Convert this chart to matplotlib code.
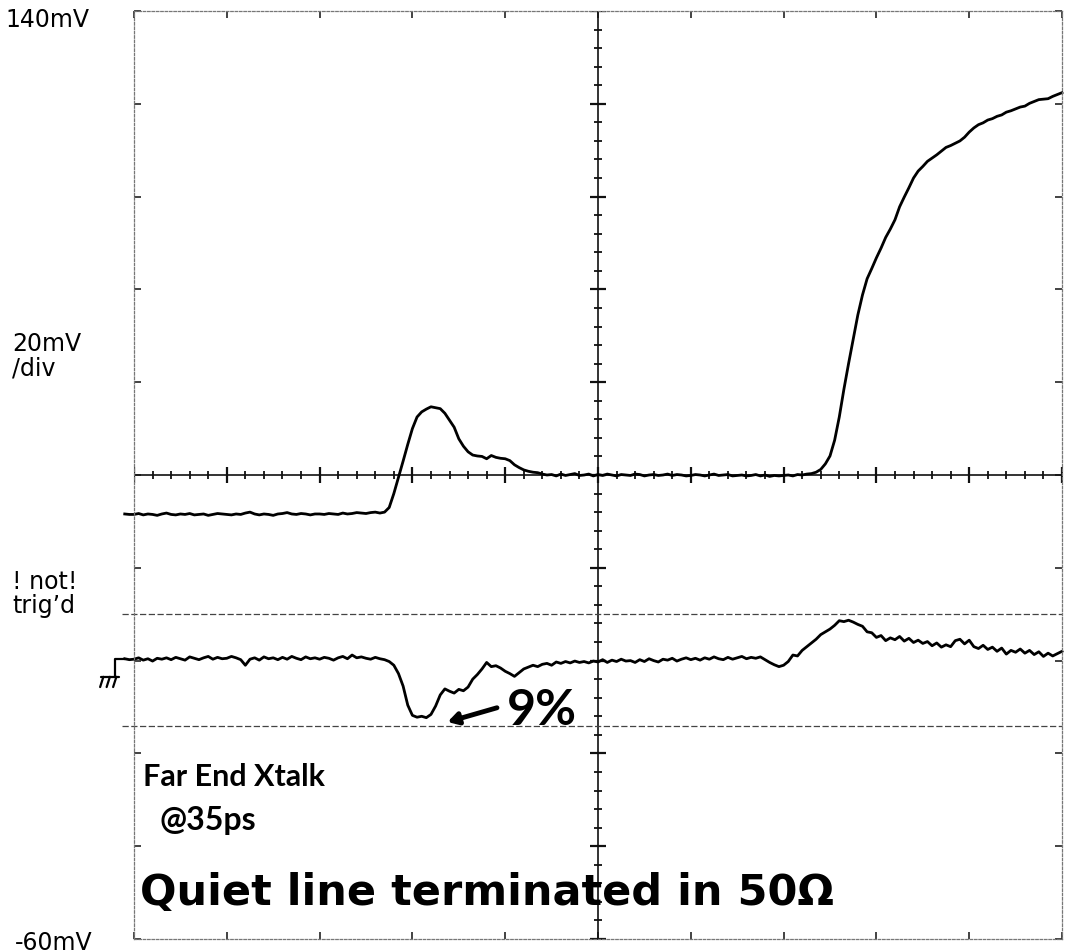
import numpy as np
import matplotlib
matplotlib.use("Agg")
import matplotlib.pyplot as plt

# sample times in screen divisions, 20 samples per division
t = np.round(np.arange(-0.10, 10.001, 0.05), 2)

# channel 1: driven line step, mV
ch1 = [
    31.6, 31.5,
    31.5, 31.7, 31.4, 31.6, 31.5, 31.3, 31.6, 31.8, 31.5, 31.4, 31.6, 31.5, 31.7, 31.4, 31.5, 31.6, 31.3, 31.5, 31.7, 31.6,
    31.5, 31.4, 31.6, 31.5, 31.8, 32.0, 31.6, 31.4, 31.6, 31.5, 31.3, 31.6, 31.7, 31.9, 31.6, 31.5, 31.7, 31.6, 31.4, 31.6,
    31.6, 31.5, 31.7, 31.6, 31.5, 31.8, 31.6, 31.7, 31.9, 31.8, 31.7, 31.9, 32.0, 31.8, 32.0, 33.0, 36.0, 39.5, 43.0, 46.6,
    50.0, 52.5, 53.6, 54.2, 54.7, 54.5, 54.3, 53.3, 51.8, 50.3, 47.8, 46.2, 45.0, 44.3, 44.1, 44.0, 43.5, 44.2, 43.8, 43.6,
    43.5, 43.1, 42.2, 41.6, 41.1, 40.8, 40.6, 40.5, 40.2, 40.0, 40.1, 39.8, 40.2, 39.9, 40.1, 40.3, 39.9, 40.0, 40.2, 39.8,
    40.1, 39.9, 40.2, 40.0, 39.8, 40.1, 40.0, 39.9, 40.2, 40.1, 39.8, 40.0, 40.1, 39.9, 40.0, 40.2, 39.9, 40.1, 40.0, 39.8,
    39.9, 40.1, 40.0, 39.8, 40.0, 40.2, 39.9, 40.0, 40.1, 39.8, 39.9, 40.0, 39.8, 39.9, 40.1, 39.8, 40.0, 39.7, 39.9, 39.8,
    39.9, 40.0, 39.8, 40.1, 40.0, 40.2, 40.3, 40.6, 41.2, 42.4, 44.1, 47.5, 52.5, 58.5, 64.0, 69.3, 74.5, 78.8, 82.3, 84.5,
    86.8, 88.9, 91.2, 93.0, 95.0, 97.8, 99.9, 101.9, 104.0, 105.5, 106.5, 107.6, 108.3, 109.0, 109.8, 110.6, 111.0, 111.5, 112.0, 112.8,
    113.9, 114.8, 115.5, 115.9, 116.5, 116.8, 117.3, 117.6, 118.2, 118.5, 118.9, 119.3, 119.5, 120.1, 120.5, 120.9, 121.0, 121.1, 121.6, 122.0,
    122.4,
]

# channel 2: quiet line at the far end, mV
ch2 = [
    0.4, 0.2,
    0.3, 0.6, 0.1, 0.4, -0.1, 0.5, 0.3, 0.6, 0.2, 0.7, 0.4, 0.1, 0.8, 0.5, 0.2, 0.6, 0.9, 0.3, 0.7, 0.4,
    0.5, 0.9, 0.6, 0.2, -1.0, 0.3, 0.6, 0.1, 0.8, 0.4, 0.6, 0.2, 0.7, 0.3, 0.9, 0.5, 0.2, 0.8, 0.4, 0.6,
    0.3, 0.7, 0.5, 0.1, 0.6, 0.9, 0.4, 1.2, 0.6, 0.8, 0.5, 0.3, 0.7, 0.4, 0.2, -0.2, -1.0, -2.8, -5.5, -9.6,
    -11.8, -12.2, -12.0, -12.3, -11.6, -9.8, -7.4, -6.1, -6.6, -7.0, -6.2, -6.5, -5.7, -4.0, -3.0, -1.8, -0.4, -1.3, -1.1, -1.6,
    -2.3, -2.8, -3.4, -2.6, -1.8, -1.4, -1.0, -1.3, -0.8, -0.6, -1.0, -0.3, -0.6, -0.2, -0.5, -0.1, -0.4, -0.2, -0.5, -0.1,
    -0.3, 0.2, -0.4, 0.1, -0.2, 0.3, -0.1, 0.0, -0.4, 0.2, -0.2, 0.4, 0.0, -0.3, 0.3, 0.1, 0.5, -0.1, 0.3, 0.6,
    0.2, 0.5, 0.1, 0.6, 0.3, 0.8, 0.4, 0.2, 0.7, 0.3, 0.6, 0.9, 0.4, 0.7, 0.5, 0.8, 0.2, -0.4, -0.9, -1.3,
    -1.0, -0.2, 1.2, 1.0, 2.2, 3.0, 3.8, 4.6, 5.6, 6.2, 6.8, 7.6, 8.6, 8.4, 8.7, 8.3, 7.8, 7.4, 6.2, 6.0,
    5.0, 5.4, 4.3, 4.9, 4.5, 5.2, 4.2, 4.8, 3.9, 4.4, 3.7, 4.1, 3.2, 3.8, 2.9, 3.4, 3.0, 4.3, 4.6, 3.6,
    4.4, 3.0, 2.6, 3.3, 2.4, 2.9, 2.0, 2.7, 1.4, 2.2, 1.8, 2.5, 1.6, 2.2, 1.3, 1.9, 0.9, 1.6, 1.0, 1.5,
    2.0,
]

# cursor levels, mV
marker_levels = [10.0, -14.0]

v_min, v_max = -60, 140
v_center = 40

fig = plt.figure(figsize=(10.65, 9.53), dpi=100)
ax = fig.add_axes([134 / 1065, 13 / 953, 928 / 1065, 928 / 953])
ax.set_xlim(0, 10)
ax.set_ylim(v_min, v_max)

# dotted screen border with a tick at every division
for s in ax.spines.values():
    s.set_linestyle((0, (2, 1.5)))
    s.set_color("#777777")
    s.set_linewidth(0.9)
ax.set_xticks(range(11))
ax.set_yticks(range(v_min, v_max + 1, 20))
ax.tick_params(direction="in", length=5, width=1.2, color="#222222",
               top=True, right=True, labelbottom=False, labelleft=False)

# center crosshair with fine graduations
ink = "#111111"
ax.axhline(v_center, color=ink, lw=1.2)
ax.axvline(5, color=ink, lw=1.2)
minor_x = np.arange(0, 10.01, 0.2)
ax.plot(minor_x, np.full(minor_x.size, v_center), ls="none", marker="|", ms=6, mew=1.3, color=ink)
ax.plot(range(11), np.full(11, v_center), ls="none", marker="|", ms=11, mew=1.6, color=ink)
minor_y = np.arange(v_min, v_max + 0.1, 4)
ax.plot(np.full(minor_y.size, 5), minor_y, ls="none", marker="_", ms=6, mew=1.3, color=ink)
ax.plot(np.full(11, 5), range(v_min, v_max + 1, 20), ls="none", marker="_", ms=11, mew=1.6, color=ink)

# cursor lines
for lvl in marker_levels:
    ax.plot([-0.13, 10], [lvl, lvl], ls=(0, (5, 2)), color="#444444", lw=0.9, clip_on=False)

# traces
ax.plot(t, ch1, color="black", lw=2.0, clip_on=False)
ax.plot(t, ch2, color="black", lw=2.0, clip_on=False)

# channel 2 ground reference mark
gk = dict(color="black", lw=1.6, clip_on=False, solid_capstyle="round")
ax.plot([-0.10, -0.20, -0.20], [0.4, 0.4, -3.5], **gk)
ax.plot([-0.36, -0.16], [-3.5, -3.5], **gk)
for x0 in (-0.33, -0.26, -0.19):
    ax.plot([x0, x0 - 0.035], [-3.5, -5.7], **gk)

# scope readouts
ro = dict(fontsize=17, family="DejaVu Sans", color="black")
fig.text(5 / 1065, 1 - 27 / 953, "140mV", **ro)
fig.text(12 / 1065, 1 - 375 / 953, "20mV\n/div", linespacing=1.0, **ro)
fig.text(12 / 1065, 1 - 613 / 953, "! not!\ntrig\u2019d", linespacing=1.0, **ro)
fig.text(15 / 1065, 1 - 950 / 953, "-60mV", **ro)

# handwritten notes
hw = dict(fontweight="bold", color="black")
ax.text(0.10, -26.8, "Far End Xtalk", family="Lato", fontsize=22, **hw)
ax.text(0.28, -36.3, "@35ps", family="Lato", fontsize=23, **hw)
ax.text(0.07, -52.5, "Quiet line terminated in 50\u03a9", family="DejaVu Sans", fontsize=31, **hw)
ax.text(4.40, -10.6, "9%", family="Lato", fontsize=36, ha="center", va="center", **hw)
ax.annotate("", xy=(3.35, -13.4), xytext=(3.94, -10.0),
            arrowprops=dict(arrowstyle="-|>,head_length=0.6,head_width=0.35", lw=3.5, color="black"))

fig.savefig("out.png", dpi=100)
